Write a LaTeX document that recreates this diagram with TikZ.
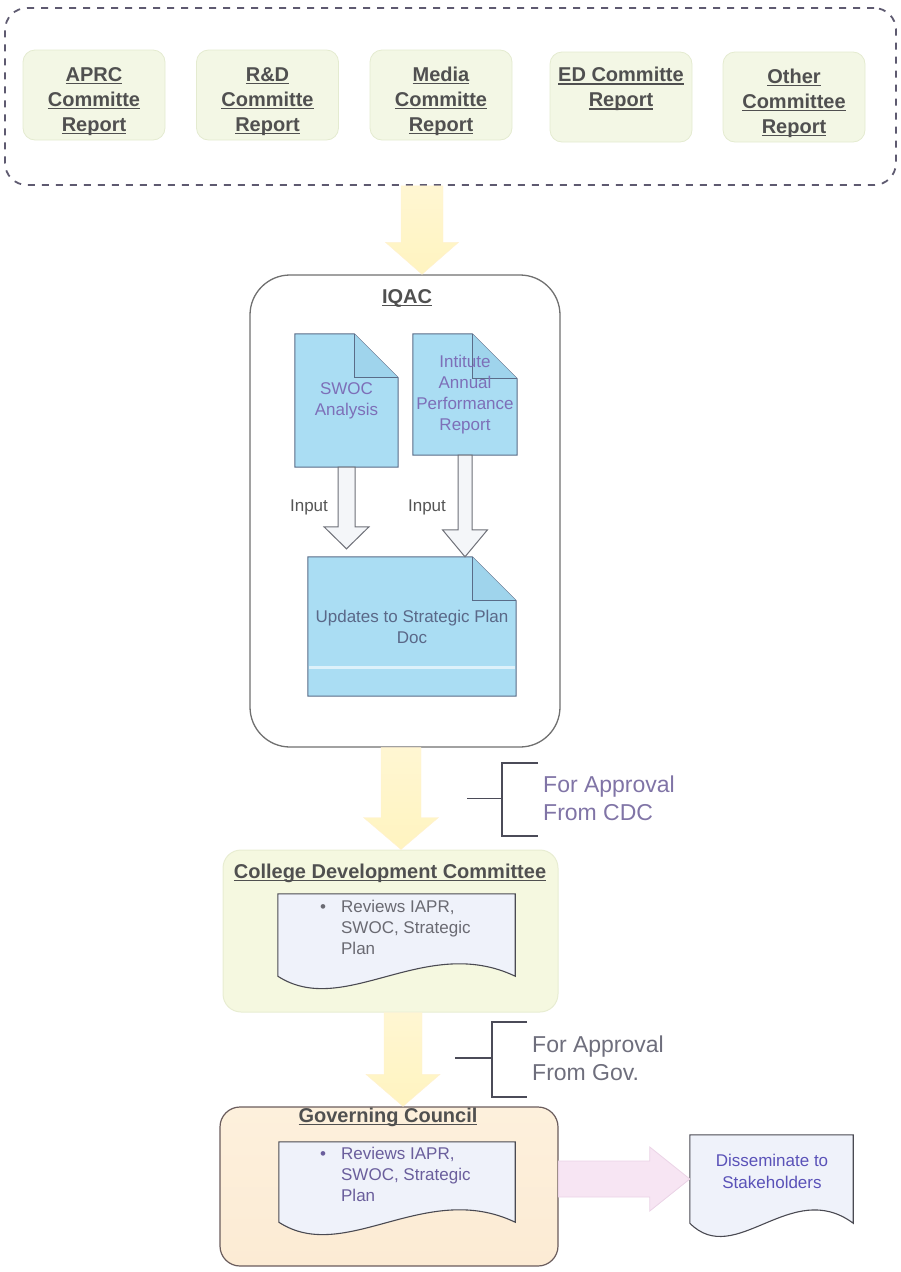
\documentclass[tikz,border=0pt]{standalone}
\usepackage{fontspec}
\setmainfont{Liberation Sans}
\usetikzlibrary{calc}
\newcommand\uline[1]{\setbox0\hbox{#1}\leavevmode\rlap{\rule[-3pt]{\wd0}{1.3pt}}\box0}
\newcommand\topstrut{\rule{0pt}{27pt}}
\pgfdeclarelayer{back}\pgfdeclarelayer{mid}\pgfsetlayers{back,mid,main}
\definecolor{dashC}{HTML}{5E5A70}
\definecolor{repF}{HTML}{F3F7E5}
\definecolor{repB}{HTML}{E4EBD0}
\definecolor{txtG}{HTML}{505050}
\definecolor{iqacB}{HTML}{707070}
\definecolor{docF}{HTML}{AADDF3}
\definecolor{docFold}{HTML}{9FD4EC}
\definecolor{docB}{HTML}{5A6C88}
\definecolor{docT}{HTML}{7D6FB8}
\definecolor{updT}{HTML}{5A6888}
\definecolor{inputT}{HTML}{555555}
\definecolor{holF}{HTML}{F4F6F9}
\definecolor{holB}{HTML}{6E7078}
\definecolor{yelA}{HTML}{FFF6D2}
\definecolor{yelM}{HTML}{FFFDF4}
\definecolor{yelB}{HTML}{FFF4C0}
\definecolor{cdcF}{HTML}{F5F8E0}
\definecolor{cdcM}{HTML}{FAFBEE}
\definecolor{cdcB}{HTML}{E8EDD2}
\definecolor{wdocF}{HTML}{EFF2FA}
\definecolor{wdocB}{HTML}{4A4A52}
\definecolor{gcA}{HTML}{FDF0DC}
\definecolor{gcM}{HTML}{FEF6EA}
\definecolor{gcZ}{HTML}{FCEBD4}
\definecolor{gcB}{HTML}{6A5C5C}
\definecolor{pinkF}{HTML}{F7E5F3}
\definecolor{pinkB}{HTML}{EBD3E6}
\definecolor{brk}{HTML}{4B4B58}
\definecolor{apprA}{HTML}{8074A6}
\definecolor{apprB}{HTML}{6E6E7C}
\definecolor{gcT}{HTML}{6A5E9C}
\definecolor{cdcT}{HTML}{6A6A72}
\definecolor{disT}{HTML}{5A52B8}
\newcommand\folddoc[2]{%
  \path[fill=docF, draw=docB, line width=1pt] (#1.north west) -- ([xshift=-#2 pt]#1.north east) -- ([yshift=-#2 pt]#1.north east) -- (#1.south east) -- (#1.south west) -- cycle;
  \path[fill=docFold, draw=docB, line width=1pt] ([xshift=-#2 pt]#1.north east) -- ([xshift=-#2 pt, yshift=-#2 pt]#1.north east) -- ([yshift=-#2 pt]#1.north east);}
\newcommand\wavedoc[2]{%
  \path[fill=wdocF, draw=wdocB, line width=1.1pt] (#1.south west) -- (#1.north west) -- (#1.north east) -- (#1.south east) .. controls ($(#1.south east)!0.38!(#1.south west)+(0,-#2)$) and ($(#1.south east)!0.72!(#1.south west)+(0,#2)$) .. (#1.south west) -- cycle;}
\newcommand\vblock[6]{%
  \path[#6] let \p1=(#1), \p2=(#2) in
  (\x2-#3pt,\y1) -- (\x2-#3pt,\y2+#5pt) -- (\x2-#4pt,\y2+#5pt) -- (\x2,\y2) -- (\x2+#4pt,\y2+#5pt) -- (\x2+#3pt,\y2+#5pt) -- (\x2+#3pt,\y1) -- cycle;}
\newcommand\hblock[6]{%
  \path[#6] let \p1=(#1), \p2=(#2) in
  (\x1,\y2+#3pt) -- (\x2-#5pt,\y2+#3pt) -- (\x2-#5pt,\y2+#4pt) -- (\x2,\y2) -- (\x2-#5pt,\y2-#4pt) -- (\x2-#5pt,\y2-#3pt) -- (\x1,\y2-#3pt) -- cycle;}
\begin{document}
\begin{tikzpicture}[x=1pt,y=-1pt,
  rep/.style={draw=repB, fill=repF, line width=0.8pt, rounded corners=12pt, minimum width=142pt, minimum height=90pt, inner sep=0pt, align=center, text=txtG, font=\fontsize{20}{25}\selectfont\bfseries},
  ttl/.style={inner sep=0pt, text=txtG, font=\fontsize{20}{24}\selectfont\bfseries},
  fdoc/.style={inner sep=0pt, align=center, text=docT, font=\fontsize{17}{21}\selectfont},
  plain/.style={inner sep=0pt, font=\fontsize{17}{21}\selectfont},
  appr/.style={inner sep=0pt, align=left, font=\fontsize{23}{28}\selectfont},
  yarrow/.style={top color=yelA, middle color=yelM, bottom color=yelB, draw=yelB!85!orange!50, line width=0.4pt},
  hollow/.style={fill=holF, draw=holB, line width=1pt},
  pinkarrow/.style={fill=pinkF, draw=pinkB, line width=0.8pt},
  brkline/.style={draw=brk, line width=1.8pt},
]
\useasboundingbox (0,0) rectangle (901,1272);

% top group
\node[draw=dashC, dash pattern=on 7pt off 7pt, line width=1.8pt, rounded corners=22pt, minimum width=891pt, minimum height=177pt, inner sep=0pt] (reports) at (450.5,96.5) {};
\node[rep] (aprc) at (94,95) {\topstrut\uline{APRC}\\\uline{Committe}\\\uline{Report}};
\node[rep] (rd) at (267.5,95) {\topstrut\uline{R\&D}\\\uline{Committe}\\\uline{Report}};
\node[rep] (media) at (441,95) {\topstrut\uline{Media}\\\uline{Committe}\\\uline{Report}};
\node[rep] (ed) at (621,97) {\topstrut\uline{ED Committe}\\\uline{Report}\\\strut};
\node[rep] (other) at (794,97) {\topstrut\uline{Other}\\\uline{Committee}\\\uline{Report}};

% containers
\begin{pgfonlayer}{back}
\node[draw=iqacB, line width=1.3pt, fill=white, rounded corners=40pt, minimum width=310pt, minimum height=472pt, inner sep=0pt] (iqac) at (405,511) {};
\node[top color=cdcF, middle color=cdcM, bottom color=cdcF, draw=cdcB, line width=1pt, rounded corners=18pt, minimum width=335pt, minimum height=162pt, inner sep=0pt] (cdc) at (390.5,931) {};
\node[top color=gcA, middle color=gcM, bottom color=gcZ, draw=gcB, line width=1.2pt, rounded corners=20pt, minimum width=338pt, minimum height=159pt, inner sep=0pt] (gc) at (389,1186.5) {};
\end{pgfonlayer}
\node[ttl] (iqact) at (407,298) {\uline{IQAC}};

\node[fdoc, minimum width=103pt, minimum height=133pt] (swoc) at (346.5,400.5) {SWOC\\Analysis};
\node[fdoc, minimum width=104pt, minimum height=121pt] (inst) at (465,394.5) {Intitute\\Annual\\Performance\\Report};
\node[fdoc, text=updT, minimum width=208pt, minimum height=139pt] (updates) at (412,626.5) {Updates to Strategic Plan\\Doc};
\begin{pgfonlayer}{mid}
\folddoc{swoc}{44}
\folddoc{inst}{45}
\folddoc{updates}{44}
\draw[docF!40!white, line width=3pt] ([xshift=1pt,yshift=-40.5pt]updates.west) -- ([xshift=-1pt,yshift=-40.5pt]updates.east);
\end{pgfonlayer}

\vblock{swoc.south}{$(updates.north -| swoc.south)+(0,-8)$}{8.5}{22.5}{22}{hollow}
\vblock{inst.south}{updates.north -| inst.south}{7}{22.5}{27}{hollow}
\node[plain, text=inputT] (in1) at (309,507) {Input};
\node[plain, text=inputT] (in2) at (427,507) {Input};

% yellow arrows
\coordinate (c1) at (422,0);
\coordinate (c2) at (401,0);
\coordinate (c3) at (403,0);
\vblock{reports.south -| c1}{iqac.north -| c1}{21}{36.5}{32}{yarrow}
\vblock{iqac.south -| c2}{cdc.north -| c2}{20}{37.5}{32}{yarrow}
\vblock{cdc.south -| c3}{gc.north -| c3}{19}{37}{32}{yarrow}

% CDC
\node[ttl] (cdct) at (390,873) {\uline{College Development Committee}};
\node[inner sep=0pt, minimum width=237pt, minimum height=82pt] (cdcdoc) at (396.5,935) {};
\begin{pgfonlayer}{mid}\wavedoc{cdcdoc}{43}\end{pgfonlayer}
\node[plain, text=cdcT, anchor=north west] (cdctx) at (320,898) {\begin{tabular}{@{}l@{\hspace{15pt}}l@{}}\textbullet & Reviews IAPR,\\ & SWOC, Strategic\\ & Plan\end{tabular}};

% approval brackets
\node[appr, text=apprA, anchor=west] (appr1) at (543,798.5) {For Approval\\From CDC};
\draw[brkline] ([xshift=-5pt,yshift=35.5pt]appr1.west) -- ++(-36,0) -- ++(0,73) -- ++(36,0);
\draw[brkline] ([xshift=-41pt]appr1.west) -- ++(-35,0);
\node[appr, text=apprB, anchor=west] (appr2) at (532,1058) {For Approval\\From Gov.};
\draw[brkline] ([xshift=-5pt,yshift=36pt]appr2.west) -- ++(-35,0) -- ++(0,75) -- ++(35,0);
\draw[brkline] ([xshift=-40pt]appr2.west) -- ++(-37,0);

% Governing council
\node[ttl] (gct) at (388,1117) {\uline{Governing Council}};
\node[inner sep=0pt, minimum width=236pt, minimum height=80pt] (gcdoc) at (397,1182) {};
\begin{pgfonlayer}{mid}\wavedoc{gcdoc}{43}\end{pgfonlayer}
\node[plain, text=gcT, anchor=north west] (gctx) at (320,1145) {\begin{tabular}{@{}l@{\hspace{15pt}}l@{}}\textbullet & Reviews IAPR,\\ & SWOC, Strategic\\ & Plan\end{tabular}};

% disseminate
\node[inner sep=0pt, minimum width=163pt, minimum height=88pt] (dissem) at (771.5,1179) {};
\begin{pgfonlayer}{mid}\wavedoc{dissem}{46}\end{pgfonlayer}
\node[plain, text=disT, align=center, font=\fontsize{17}{22}\selectfont] (distx) at (772,1171) {Disseminate to\\Stakeholders};
\hblock{gc.east}{dissem.west}{18}{32}{40}{pinkarrow}
\end{tikzpicture}
\end{document}
